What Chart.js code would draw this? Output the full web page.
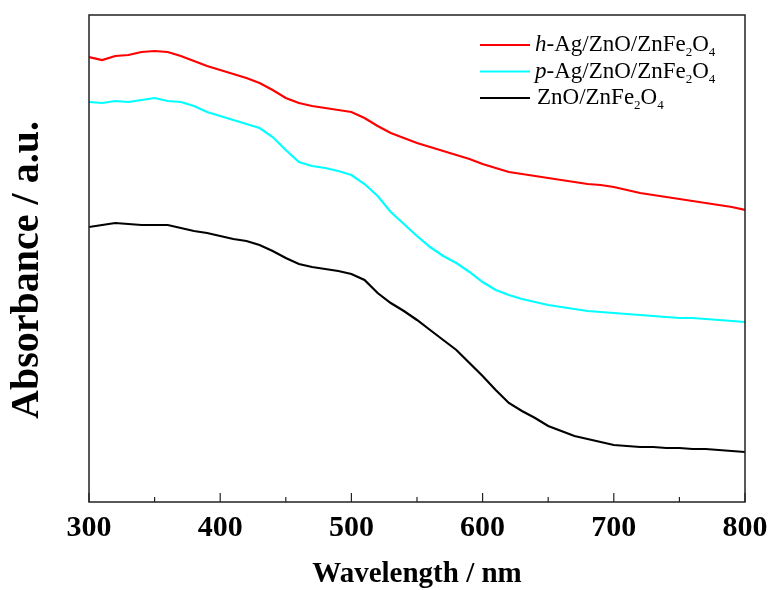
<!DOCTYPE html>
<html>
<head>
<meta charset="utf-8">
<script src="https://cdn.jsdelivr.net/npm/chart.js@4/dist/chart.umd.min.js"></script>
<style>
  body { margin: 0; background: #fff; }
  canvas { display: block; }
</style>
</head>
<body>
<canvas id="uvChart" width="769" height="590"></canvas>
<script>
const wavelengths = [300, 310, 320, 330, 340, 350, 360, 370, 380, 390,
  400, 410, 420, 430, 440, 450, 460, 470, 480, 490,
  500, 510, 520, 530, 540, 550, 560, 570, 580, 590,
  600, 610, 620, 630, 640, 650, 660, 670, 680, 690,
  700, 710, 720, 730, 740, 750, 760, 770, 780, 790, 800];

const hAg = [4.45, 4.42, 4.46, 4.47, 4.50, 4.51, 4.50, 4.46, 4.41, 4.36,
  4.32, 4.28, 4.24, 4.19, 4.12, 4.04, 3.99, 3.96, 3.94, 3.92,
  3.90, 3.84, 3.76, 3.69, 3.64, 3.59, 3.55, 3.51, 3.47, 3.43,
  3.38, 3.34, 3.30, 3.28, 3.26, 3.24, 3.22, 3.20, 3.18, 3.17,
  3.15, 3.12, 3.09, 3.07, 3.05, 3.03, 3.01, 2.99, 2.97, 2.95, 2.92];

const pAg = [4.00, 3.99, 4.01, 4.00, 4.02, 4.04, 4.01, 4.00, 3.96, 3.90,
  3.86, 3.82, 3.78, 3.74, 3.65, 3.52, 3.40, 3.36, 3.34, 3.31,
  3.27, 3.18, 3.06, 2.90, 2.78, 2.66, 2.55, 2.46, 2.39, 2.30,
  2.20, 2.12, 2.07, 2.03, 2.00, 1.97, 1.95, 1.93, 1.91, 1.90,
  1.89, 1.88, 1.87, 1.86, 1.85, 1.84, 1.84, 1.83, 1.82, 1.81, 1.80];

const bare = [2.75, 2.77, 2.79, 2.78, 2.77, 2.77, 2.77, 2.74, 2.71, 2.69,
  2.66, 2.63, 2.61, 2.57, 2.51, 2.44, 2.38, 2.35, 2.33, 2.31,
  2.28, 2.22, 2.09, 1.99, 1.91, 1.82, 1.72, 1.62, 1.52, 1.39,
  1.26, 1.12, 0.99, 0.91, 0.84, 0.76, 0.71, 0.66, 0.63, 0.60,
  0.57, 0.56, 0.55, 0.55, 0.54, 0.54, 0.53, 0.53, 0.52, 0.51, 0.50];

const xTicks = [300, 400, 500, 600, 700, 800];
const serif = '"Liberation Serif", "Times New Roman", serif';

function toPoints(ys) {
  return wavelengths.map((w, i) => ({ x: w, y: ys[i] }));
}

// legend entries: [italic prefix, rest of text]
const legendItems = [
  ['h', '-Ag/ZnO/ZnFe'],
  ['p', '-Ag/ZnO/ZnFe'],
  ['', 'ZnO/ZnFe']
];

const framePlugin = {
  id: 'frame',
  afterDraw(chart) {
    const ctx = chart.ctx;
    const a = chart.chartArea;
    const xs = chart.scales.x;
    ctx.save();
    ctx.strokeStyle = '#222';
    ctx.lineWidth = 1.5;
    ctx.strokeRect(a.left, a.top, a.right - a.left, a.bottom - a.top);
    ctx.lineWidth = 1.2;
    for (let v = 300; v <= 800; v += 50) {
      const px = xs.getPixelForValue(v);
      const len = v % 100 === 0 ? 9 : 5;
      ctx.beginPath();
      ctx.moveTo(px, a.bottom);
      ctx.lineTo(px, a.bottom - len);
      ctx.stroke();
    }

    // y axis title, sits a bit below the plot centre in the original
    ctx.save();
    ctx.translate(28, 270);
    ctx.rotate(-Math.PI / 2);
    ctx.fillStyle = '#000';
    ctx.font = 'bold 40px ' + serif;
    ctx.textAlign = 'center';
    ctx.textBaseline = 'middle';
    ctx.fillText('Absorbance / a.u.', 0, 0);
    ctx.restore();

    // legend with subscripts
    let y = 45;
    chart.data.datasets.forEach((ds, i) => {
      ctx.strokeStyle = ds.borderColor;
      ctx.lineWidth = 2;
      ctx.beginPath();
      ctx.moveTo(480, y);
      ctx.lineTo(530, y);
      ctx.stroke();

      ctx.fillStyle = '#000';
      ctx.textBaseline = 'middle';
      let x = 535;
      const [it, rest] = legendItems[i];
      if (it) {
        ctx.font = 'italic 23px ' + serif;
        ctx.fillText(it, x, y);
        x += ctx.measureText(it).width;
      } else {
        x += 2;
      }
      ctx.font = '23px ' + serif;
      ctx.fillText(rest, x, y);
      x += ctx.measureText(rest).width;
      ctx.font = '13px ' + serif;
      ctx.fillText('2', x, y + 8);
      x += ctx.measureText('2').width;
      ctx.font = '23px ' + serif;
      ctx.fillText('O', x, y);
      x += ctx.measureText('O').width;
      ctx.font = '13px ' + serif;
      ctx.fillText('4', x, y + 8);
      y += 26.5;
    });
    ctx.restore();
  }
};

new Chart(document.getElementById('uvChart').getContext('2d'), {
  type: 'line',
  data: {
    datasets: [
      { label: 'h-Ag/ZnO/ZnFe2O4', data: toPoints(hAg), borderColor: '#ff0000' },
      { label: 'p-Ag/ZnO/ZnFe2O4', data: toPoints(pAg), borderColor: '#00ffff' },
      { label: 'ZnO/ZnFe2O4', data: toPoints(bare), borderColor: '#000000' }
    ]
  },
  options: {
    responsive: false,
    animation: false,
    layout: { padding: { top: 15, right: 24, left: 0, bottom: 0 } },
    elements: {
      point: { radius: 0 },
      line: { borderWidth: 2.2, tension: 0 }
    },
    plugins: {
      legend: { display: false },
      tooltip: { enabled: false }
    },
    scales: {
      x: {
        type: 'linear',
        min: 300,
        max: 800,
        afterFit(scale) { scale.height = 88; },
        afterBuildTicks(scale) { scale.ticks = xTicks.map(v => ({ value: v })); },
        grid: { display: false },
        border: { display: false },
        ticks: {
          color: '#000',
          padding: 0,
          maxRotation: 0,
          font: { family: serif, size: 30, weight: 'bold' }
        },
        title: {
          display: true,
          text: 'Wavelength / nm',
          color: '#000',
          padding: { top: 0, bottom: -2 },
          font: { family: serif, size: 29, weight: 'bold' }
        }
      },
      y: {
        min: 0,
        max: 4.87,
        afterFit(scale) { scale.width = 89; },
        grid: { display: false },
        border: { display: false },
        ticks: { display: false }
      }
    }
  },
  plugins: [framePlugin]
});
</script>
</body>
</html>
